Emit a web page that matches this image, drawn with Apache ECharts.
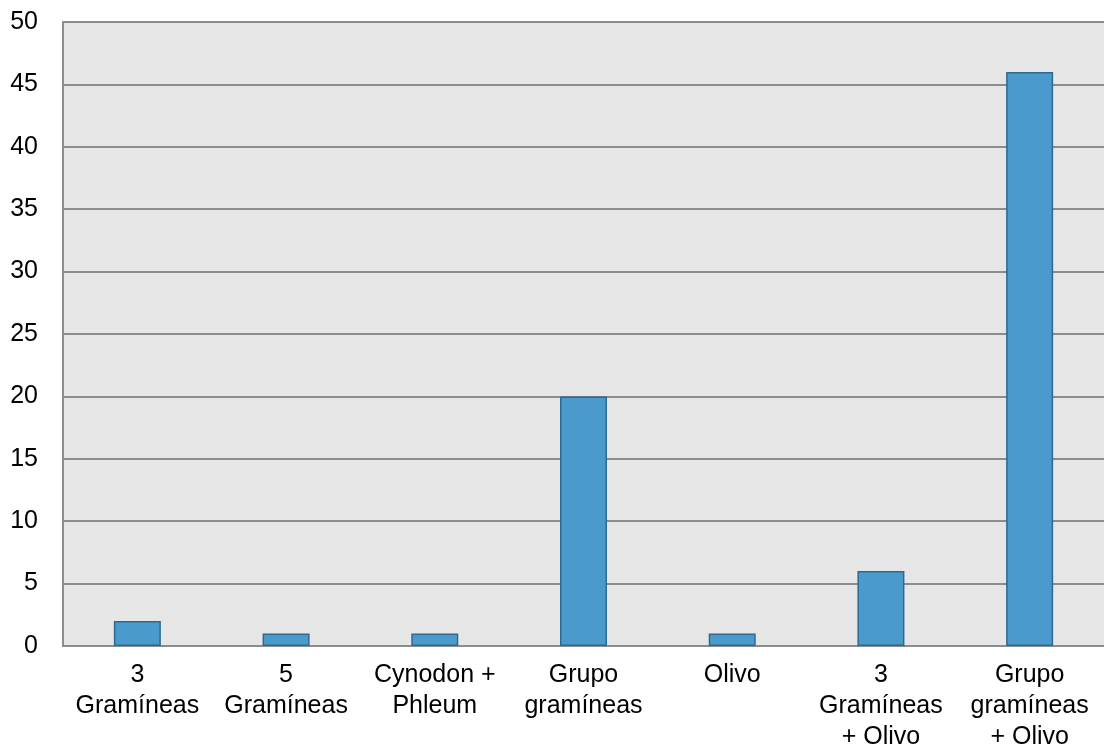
<!DOCTYPE html>
<html>
<head>
<meta charset="utf-8">
<script src="https://cdn.jsdelivr.net/npm/echarts@6/dist/echarts.min.js"></script>
<style>
  html, body { margin: 0; padding: 0; background: #ffffff; }
  #chart { width: 1104px; height: 752px; }
</style>
</head>
<body>
<div id="chart"></div>
<script>
// Categories (line breaks as they wrap under each bar)
const categories = [
  '3\nGramíneas',
  '5\nGramíneas',
  'Cynodon +\nPhleum',
  'Grupo\ngramíneas',
  'Olivo',
  '3\nGramíneas\n+ Olivo',
  'Grupo\ngramíneas\n+ Olivo'
];
// Counts per category
const counts = [2, 1, 1, 20, 1, 6, 46];
// Value axis range
const yMin = 0;
const yMax = 50;
const yStep = 5;

const chart = echarts.init(document.getElementById('chart'), null, { renderer: 'canvas' });
chart.setOption({
  animation: false,
  backgroundColor: '#ffffff',
  grid: {
    left: 63, right: 0, top: 22, bottom: 106,
    outerBoundsMode: 'none',
    containLabel: false,
    show: true,
    backgroundColor: '#e6e6e6',
    borderWidth: 0
  },
  xAxis: {
    type: 'category',
    data: categories,
    axisLine: { show: true, lineStyle: { color: '#8c8c8c', width: 2 } },
    axisTick: { show: false },
    axisLabel: {
      color: '#000000',
      fontFamily: 'Liberation Sans, Arial, sans-serif',
      fontSize: 25,
      lineHeight: 31,
      margin: 14,
      interval: 0
    }
  },
  yAxis: {
    type: 'value',
    min: yMin,
    max: yMax,
    interval: yStep,
    axisLine: { show: true, lineStyle: { color: '#8c8c8c', width: 2 } },
    axisTick: { show: false },
    splitLine: { show: true, lineStyle: { color: '#8c8c8c', width: 2 } },
    axisLabel: {
      color: '#000000',
      fontFamily: 'Liberation Sans, Arial, sans-serif',
      fontSize: 25,
      margin: 25
    }
  },
  series: [{
    type: 'bar',
    data: counts,
    barWidth: 47,
    itemStyle: {
      color: '#4a9bcb',
      borderColor: '#2c6a93',
      borderWidth: 1.5
    }
  }]
});
</script>
</body>
</html>
